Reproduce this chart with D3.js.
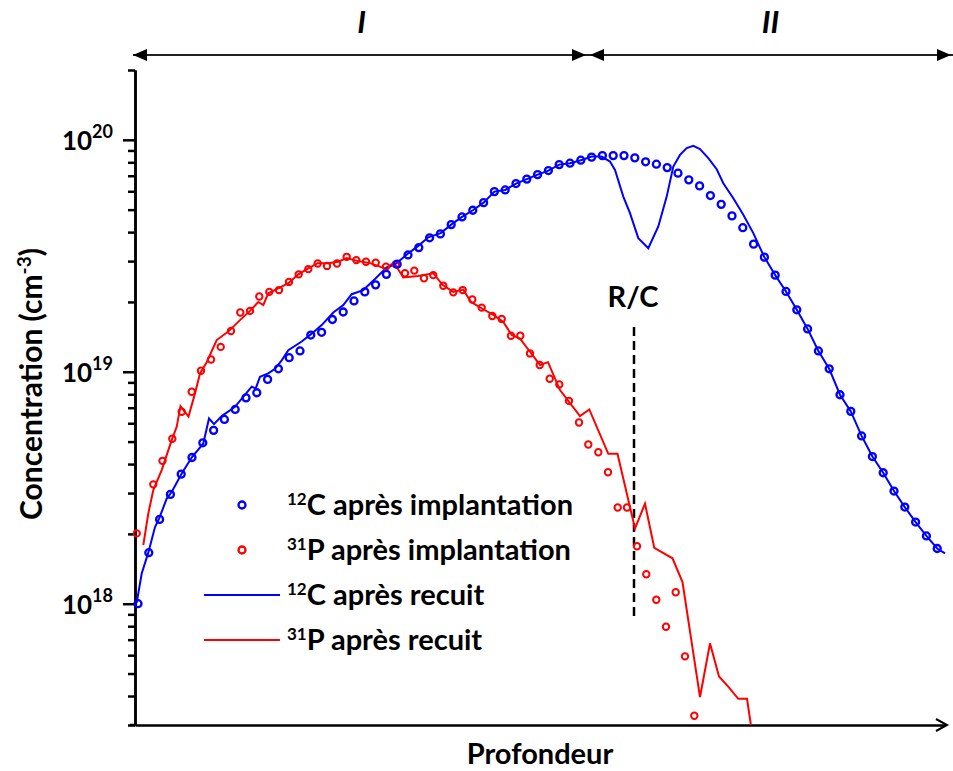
<!DOCTYPE html>
<html><head><meta charset="utf-8">
<script src="https://cdn.jsdelivr.net/npm/d3@7"></script>
<style>
body{margin:0;background:#fff}
text{font-family:Lato,"Open Sans",sans-serif;font-weight:bold;fill:#000}
</style></head>
<body><svg id="c" width="953" height="771"></svg>
<script>
// ---- data (depth in arbitrary units, concentration in cm^-3) ----
const depthC = [3,13.8,24.6,35.4,46.2,57,67.8,78.6,89.4,100.2,111,121.8,132.6,143.4,154.2,165,175.8,186.6,197.4,208.2,219,229.8,240.6,251.4,262.2,273,283.8,294.6,305.4,316.2,327,337.8,348.6,359.4,370.2,381,391.8,402.6,413.4,424.2,435,445.8,456.6,467.4,478.2,489,499.8,510.6,521.4,532.2,543,553.8,564.6,575.4,586.2,597,607.8,618.6,629.4,640.2,651,661.8,672.6,683.4,694.2,705,715.8,726.6,737.4,748.2,759,769.8,780.6,791.4,802.2];
const concC = [1.00e18,1.66e18,2.31e18,2.96e18,3.62e18,4.27e18,4.94e18,5.59e18,6.23e18,6.88e18,7.72e18,8.12e18,9.27e18,1.03e19,1.15e19,1.23e19,1.44e19,1.48e19,1.68e19,1.81e19,2.02e19,2.21e19,2.37e19,2.63e19,2.91e19,3.19e19,3.43e19,3.78e19,3.93e19,4.31e19,4.65e19,4.97e19,5.36e19,5.98e19,6.08e19,6.48e19,6.77e19,7.08e19,7.37e19,7.82e19,7.93e19,8.17e19,8.42e19,8.55e19,8.55e19,8.55e19,8.36e19,8.04e19,7.85e19,7.59e19,7.18e19,6.72e19,6.33e19,5.75e19,5.27e19,4.70e19,4.18e19,3.55e19,3.12e19,2.61e19,2.22e19,1.85e19,1.53e19,1.23e19,1.03e19,7.96e18,6.75e18,5.29e18,4.31e18,3.67e18,3.06e18,2.61e18,2.25e18,1.96e18,1.73e18];

const depthP = [1.7,18.3,27.5,37.3,46.7,56.7,66,76,85.7,96,105.3,115,124.3,134.3,144,154,163.7,173.3,182.7,192,202,211.7,221.3,231,240.7,251,260.7,270,279.3,289,298.3,308.3,318.3,327.7,337.3,346.7,357.3,366.7,376,385.3,395,404.7,414.7,424.3,434,444,453.3,463.3,473,482.7,492,502,511.3,521.3,531,540.7,550,559.3];
const concP = [2.01e18,3.27e18,4.13e18,5.14e18,6.72e18,8.20e18,1.01e19,1.13e19,1.28e19,1.50e19,1.80e19,1.83e19,2.11e19,2.21e19,2.25e19,2.44e19,2.63e19,2.77e19,2.93e19,2.86e19,2.93e19,3.13e19,3.03e19,2.98e19,2.95e19,2.84e19,2.91e19,2.66e19,2.73e19,2.53e19,2.61e19,2.35e19,2.20e19,2.25e19,2.05e19,1.89e19,1.74e19,1.69e19,1.43e19,1.43e19,1.20e19,1.07e19,9.33e18,8.82e18,7.49e18,6.04e18,4.86e18,4.50e18,3.69e18,2.60e18,2.60e18,1.77e18,1.34e18,1.04e18,7.96e17,1.12e18,5.93e17,3.29e17];

const depthCR = [1.7,6.7,13.3,20,24,31.7,36.7,46.7,56.7,68.3,74,79,86.7,100,116.7,120.7,125,133.3,140,146.7,153.3,166.7,176.7,186.7,198.3,208.3,216.7,228.3,240,250,261.7,273.3,283.3,293.3,305.7,316.2,327,337.8,348.6,359.4,370.2,381,391.8,402.6,413.4,424.2,435,445.8,456.7,466.7,475,480,488.3,495,503.3,513.3,523.3,531.7,538.3,545,551.7,558.3,565,573.3,581.7,588.3,598.3,608.3,618.3,629.4,640.2,651,661.8,672.6,683.4,694.2,705,715.8,726.6,737.4,748.2,759,769.8,780.6,791.4,802.2,810];
const concCR = [1.01e18,1.35e18,1.66e18,2.14e18,2.32e18,2.84e18,3.03e18,3.64e18,4.27e18,4.91e18,6.29e18,5.95e18,6.44e18,7.06e18,8.62e18,8.48e18,9.51e18,9.84e18,1.03e19,1.12e19,1.24e19,1.35e19,1.46e19,1.59e19,1.80e19,1.94e19,2.16e19,2.25e19,2.51e19,2.77e19,2.94e19,3.24e19,3.49e19,3.80e19,3.96e19,4.31e19,4.65e19,4.97e19,5.36e19,5.98e19,6.08e19,6.48e19,6.77e19,7.08e19,7.37e19,7.82e19,7.93e19,8.17e19,8.47e19,8.47e19,8.06e19,7.42e19,5.69e19,4.83e19,3.77e19,3.41e19,4.23e19,5.69e19,7.67e19,8.61e19,9.21e19,9.42e19,9.12e19,8.34e19,7.47e19,6.50e19,5.60e19,4.75e19,3.96e19,3.12e19,2.61e19,2.22e19,1.85e19,1.53e19,1.23e19,1.03e19,7.96e18,6.75e18,5.29e18,4.31e18,3.67e18,3.06e18,2.61e18,2.25e18,1.96e18,1.73e18,1.65e18];

const depthPR = [8.3,13.3,18.3,26.7,36.7,41.7,45.5,53.5,60,65,71.7,81.7,93.3,105,115,123.3,128.3,133.3,143.3,153.3,163.3,173.3,182.7,193.3,203.3,211.7,223,235,250,259,268.3,283,298.3,307.5,318.3,328.3,336,348.3,358.3,368.3,376.7,385,395,405,413,425,445,454.3,473.3,482.5,500,510,519.3,537.5,547.5,565,575,584,593,603.3,612,615.7,617.5];
const concPR = [1.79e18,2.45e18,3.09e18,3.77e18,5.07e18,5.79e18,7.11e18,6.41e18,8.07e18,9.84e18,1.10e19,1.37e19,1.49e19,1.67e19,1.83e19,2.00e19,1.94e19,2.18e19,2.29e19,2.41e19,2.63e19,2.79e19,2.94e19,2.94e19,2.98e19,3.09e19,3.00e19,2.94e19,2.79e19,2.95e19,2.55e19,2.59e19,2.66e19,2.37e19,2.21e19,2.26e19,2.00e19,1.86e19,1.76e19,1.64e19,1.44e19,1.39e19,1.22e19,1.07e19,1.10e19,8.34e18,6.44e18,6.88e18,4.43e18,4.43e18,2.11e18,2.70e18,1.74e18,1.57e18,1.24e18,3.96e17,6.75e17,4.86e17,4.40e17,3.89e17,3.89e17,3.04e17,2.50e17];

const majorTicks = [1e18, 1e19, 1e20];
const legendItems = [
  {sup:"12", label:"C après implantation", color:"#0000ff", kind:"circle"},
  {sup:"31", label:"P après implantation", color:"#ff0000", kind:"circle"},
  {sup:"12", label:"C après recuit", color:"#0000ff", kind:"line"},
  {sup:"31", label:"P après recuit", color:"#ff0000", kind:"line"}
];
const regions = [{label:"I", from:0, to:453}, {label:"II", from:453, to:818}];
const rcDepth = 499, rcTop = 1.56e19, rcBottom = 8.7e17;

// ---- chart ----
const svg = d3.select("#c");
const x = d3.scaleLinear().domain([0, 810]).range([135, 945]);
const y = d3.scaleLog().domain([3e17, 2e20]).range([725, 70]);

svg.append("defs").append("clipPath").attr("id","plot")
  .append("rect").attr("x",133).attr("y",66).attr("width",816).attr("height",659);

// y axis: minor + major ticks
const minorTicks = y.ticks().filter(t => !majorTicks.includes(t));
const gMinor = svg.append("g").attr("transform","translate(135,0)")
  .call(d3.axisLeft(y).tickValues(minorTicks).tickSize(7).tickSizeOuter(0).tickFormat(""));
const gMajor = svg.append("g").attr("transform","translate(135,0)")
  .call(d3.axisLeft(y).tickValues(majorTicks).tickSize(12).tickSizeOuter(0).tickFormat(""));
[gMinor,gMajor].forEach(g=>{g.selectAll("path,line").attr("stroke","#000").attr("stroke-width",2.5);});

majorTicks.forEach(t=>{
  const tx = svg.append("text").attr("x",113).attr("y",y(t)+10).attr("text-anchor","end")
    .style("font-size","26px");
  tx.append("tspan").text("10");
  tx.append("tspan").attr("dy",-12).style("font-size","18px").text(Math.round(Math.log10(t)));
});

// x axis
const gx = svg.append("g").attr("transform","translate(0,725)")
  .call(d3.axisBottom(x).tickValues([]).tickSizeOuter(0));
gx.select("path").attr("stroke","#000").attr("stroke-width",2.5);
svg.append("line").attr("x1",130).attr("x2",x(0)).attr("y1",725).attr("y2",725)
  .attr("stroke","#000").attr("stroke-width",2.5);
svg.append("path").attr("d",`M${x(810)-9},719L${x(810)+2},725L${x(810)-9},731`)
  .attr("fill","none").attr("stroke","#000").attr("stroke-width",2);

// axis titles
svg.append("text").attr("x",540).attr("y",764).attr("text-anchor","middle")
  .style("font-size","29px").text("Profondeur");
const yt = svg.append("text").attr("transform","translate(42,384) rotate(-90)")
  .attr("text-anchor","middle").style("font-size","30px");
yt.append("tspan").text("Concentration (cm");
yt.append("tspan").attr("dy",-11).style("font-size","19px").text("-3");
yt.append("tspan").attr("dy",11).text(")");

// region double arrows
const arrowY = 55;
svg.append("line").attr("x1",x(0)-2).attr("x2",x(818)).attr("y1",arrowY).attr("y2",arrowY)
  .attr("stroke","#222").attr("stroke-width",1.8);
function head(tipX, dir){ // dir -1 points left, +1 points right
  svg.append("path").attr("d",`M${tipX},${arrowY}L${tipX-dir*14},${arrowY-6}L${tipX-dir*14},${arrowY+6}Z`).attr("fill","#000");
}
regions.forEach(r=>{
  head(x(r.from)+ (r.from===0?-2:2), -1);
  head(x(r.to)-2, 1);
  svg.append("text").attr("x",(x(r.from)+x(r.to))/2).attr("y",33)
    .attr("text-anchor","middle").style("font-size","31px").style("font-style","italic")
    .text(r.label);
});

// R/C
svg.append("line").attr("x1",x(rcDepth)).attr("x2",x(rcDepth)).attr("y1",y(rcTop)).attr("y2",y(rcBottom))
  .attr("stroke","#000").attr("stroke-width",2.5).attr("stroke-dasharray","9,5");
svg.append("text").attr("x",x(rcDepth)-1).attr("y",307).attr("text-anchor","middle")
  .style("font-size","29px").text("R/C");

// series
const plot = svg.append("g").attr("clip-path","url(#plot)");
const line = d3.line().x(d=>x(d[0])).y(d=>y(d[1]));
plot.append("path").datum(d3.zip(depthPR, concPR)).attr("d",line)
  .attr("fill","none").attr("stroke","#ff0000").attr("stroke-width",2).attr("stroke-linejoin","miter");
plot.append("path").datum(d3.zip(depthCR, concCR)).attr("d",line)
  .attr("fill","none").attr("stroke","#0000ff").attr("stroke-width",2).attr("stroke-linejoin","miter");
plot.selectAll("circle.p").data(d3.zip(depthP, concP)).join("circle").attr("class","p")
  .attr("cx",d=>x(d[0])).attr("cy",d=>y(d[1])).attr("r",3.2)
  .attr("fill","none").attr("stroke","#ff0000").attr("stroke-width",2);
plot.selectAll("circle.c").data(d3.zip(depthC, concC)).join("circle").attr("class","c")
  .attr("cx",d=>x(d[0])).attr("cy",d=>y(d[1])).attr("r",3.5)
  .attr("fill","none").attr("stroke","#0000ff").attr("stroke-width",2.3);

// legend
const leg = svg.append("g");
legendItems.forEach((it,i)=>{
  const cy = 505 + i*45;
  if(it.kind==="circle"){
    leg.append("circle").attr("cx",242).attr("cy",cy).attr("r",3.5)
      .attr("fill","none").attr("stroke",it.color).attr("stroke-width",2.3);
  } else {
    leg.append("line").attr("x1",204).attr("x2",280).attr("y1",cy).attr("y2",cy)
      .attr("stroke",it.color).attr("stroke-width",2);
  }
  const t = leg.append("text").attr("x",287).attr("y",cy+10).style("font-size","29px");
  t.append("tspan").attr("dy",-10).style("font-size","17px").text(it.sup);
  t.append("tspan").attr("dy",10).text(it.label);
});
</script></body></html>
